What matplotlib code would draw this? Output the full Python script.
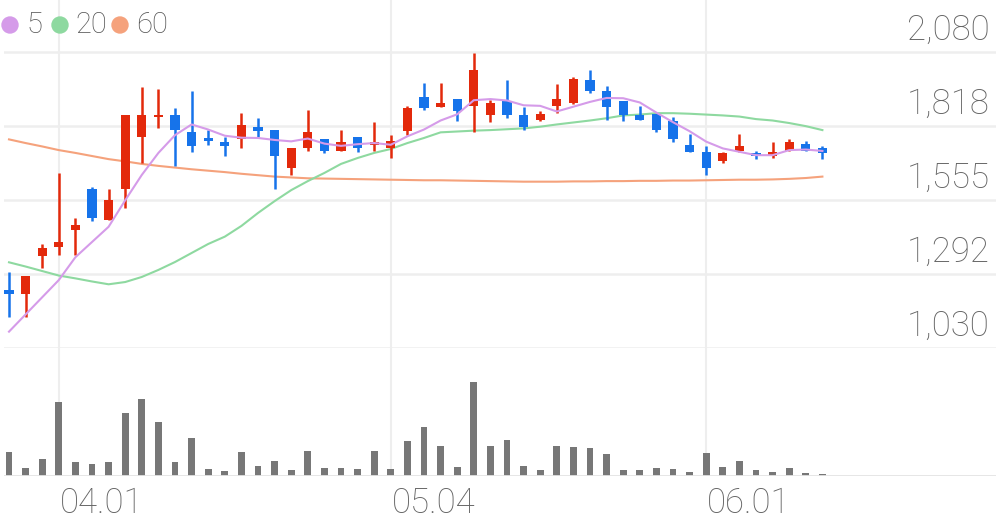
"""Daily candlestick chart with 5/20/60 moving averages and a volume strip."""

import matplotlib

matplotlib.use("Agg")

import matplotlib.pyplot as plt  # noqa: E402
from matplotlib.patches import Ellipse  # noqa: E402
from matplotlib.transforms import blended_transform_factory, offset_copy  # noqa: E402

# --- data ------------------------------------------------------------------
opens = [1235, 1220, 1355, 1390, 1450, 1595, 1485, 1595, 1780, 1850,
         1855, 1795, 1775, 1760, 1770, 1815, 1805, 1670, 1740, 1770,
         1730, 1780, 1750, 1740, 1800, 1920, 1885, 1915, 1890, 1855,
         1905, 1855, 1840, 1890, 1900, 1980, 1940, 1905, 1855, 1860,
         1835, 1750, 1725, 1695, 1730, 1720, 1710, 1730, 1755, 1740]
highs = [1300, 1285, 1400, 1650, 1490, 1600, 1595, 1855, 1955, 1950,
         1880, 1940, 1805, 1780, 1865, 1845, 1805, 1740, 1875, 1770,
         1805, 1780, 1830, 1785, 1890, 1970, 1970, 1915, 2075, 1910,
         1980, 1885, 1870, 1965, 1990, 2015, 1960, 1905, 1890, 1860,
         1850, 1790, 1745, 1725, 1790, 1730, 1760, 1770, 1765, 1745]
lows = [1140, 1140, 1315, 1360, 1360, 1480, 1485, 1525, 1685, 1810,
        1675, 1725, 1750, 1710, 1740, 1780, 1595, 1645, 1730, 1720,
        1730, 1725, 1730, 1705, 1785, 1875, 1885, 1835, 1795, 1830,
        1845, 1805, 1835, 1865, 1895, 1935, 1840, 1835, 1840, 1795,
        1760, 1725, 1645, 1685, 1725, 1700, 1705, 1730, 1730, 1700]
closes = [1220, 1285, 1385, 1405, 1465, 1490, 1555, 1855, 1855, 1855,
          1805, 1745, 1765, 1745, 1820, 1800, 1710, 1740, 1795, 1730,
          1760, 1740, 1760, 1765, 1880, 1880, 1900, 1870, 2015, 1900,
          1855, 1815, 1860, 1915, 1985, 1940, 1885, 1855, 1840, 1805,
          1770, 1725, 1670, 1720, 1745, 1710, 1725, 1760, 1730, 1720]
volumes = [243000, 77000, 167000, 737000, 137000, 117000, 137000, 627000, 767000, 537000,
           143000, 383000, 70000, 53000, 237000, 100000, 153000, 57000, 247000, 77000,
           83000, 67000, 247000, 70000, 353000, 487000, 300000, 90000, 940000, 300000,
           363000, 100000, 63000, 303000, 290000, 280000, 217000, 63000, 60000, 83000,
           70000, 40000, 230000, 90000, 150000, 60000, 43000, 80000, 33000, 17000]

ma5 = [1088, 1149, 1210, 1271, 1352, 1406, 1460, 1554, 1644, 1722,
       1785, 1823, 1805, 1783, 1776, 1775, 1768, 1763, 1773, 1755,
       1747, 1753, 1757, 1751, 1781, 1805, 1837, 1859, 1909, 1913,
       1908, 1891, 1889, 1869, 1886, 1903, 1917, 1916, 1901, 1865,
       1831, 1799, 1762, 1738, 1726, 1714, 1714, 1732, 1734, 1729]
ma20 = [1334, 1319, 1303, 1287, 1277, 1266, 1256, 1264, 1282, 1307,
        1335, 1367, 1399, 1425, 1463, 1509, 1551, 1590, 1622, 1651,
        1683, 1704, 1722, 1736, 1757, 1775, 1795, 1798, 1801, 1803,
        1806, 1809, 1815, 1823, 1830, 1837, 1845, 1855, 1858, 1863,
        1863, 1861, 1858, 1855, 1851, 1842, 1837, 1828, 1817, 1803]
ma60 = [1770, 1757, 1745, 1732, 1722, 1711, 1700, 1692, 1683, 1676,
        1670, 1664, 1659, 1654, 1648, 1643, 1638, 1635, 1632, 1631,
        1630, 1629, 1628, 1627, 1626, 1625, 1625, 1624, 1623, 1622,
        1621, 1620, 1620, 1620, 1621, 1621, 1622, 1622, 1623, 1623,
        1624, 1624, 1625, 1626, 1627, 1627, 1628, 1630, 1633, 1638]

date_ticks = [3, 23, 42]
date_labels = ["04.01", "05.04", "06.01"]
price_ticks = [1030, 1292.5, 1555, 1817.5, 2080]
ma_names = ["5", "20", "60"]

# --- style -------------------------------------------------------------------
UP, DOWN = "#e3290b", "#1673ea"
MA_COLORS = ["#d59be9", "#8ed9a0", "#f5a27c"]
GRID = "#eeeeee"
TEXT = "#636363"
FONT = ["Roboto", "DejaVu Sans"]

W, H = 996, 519
plt.rcParams["font.family"] = FONT

fig = plt.figure(figsize=(W / 100, H / 100), dpi=100)
left, right = 4 / W, 996 / W
ax = fig.add_axes([left, 1 - 348 / H, right - left, 348 / H])
axv = fig.add_axes([left, 1 - 476 / H, right - left, 128 / H], sharex=ax)

n = len(closes)
x = list(range(n))

for a in (ax, axv):
    for s in a.spines.values():
        s.set_visible(False)
    a.tick_params(left=False, bottom=False, labelleft=False, labelbottom=False)
    for t in date_ticks:
        a.axvline(t, color=GRID, lw=1.5, zorder=0)

# horizontal price grid and right-side labels
lab_tr = offset_copy(blended_transform_factory(ax.transAxes, ax.transData),
                     fig=fig, y=12, units="dots")
for v in price_ticks:
    ax.axhline(v, color=GRID, lw=1.8, zorder=0)
    ax.text(0.9935, v, f"{v:,.0f}", transform=lab_tr, ha="right", va="baseline",
            fontsize=25, color=TEXT, fontweight="light")

# candles
cols = [UP if c >= o else DOWN for o, c in zip(opens, closes)]
ax.vlines(x, lows, highs, colors=cols, lw=1.8, zorder=3)
bottoms = [min(o, c) for o, c in zip(opens, closes)]
heights = [max(abs(c - o), 5) for o, c in zip(opens, closes)]
ax.bar(x, heights, bottom=bottoms, width=0.55, color=cols, zorder=4)

# moving averages
ax.plot(x, ma60, color=MA_COLORS[2], lw=1.5, zorder=2)
ax.plot(x, ma20, color=MA_COLORS[1], lw=1.5, zorder=2)
ax.plot(x, ma5, color=MA_COLORS[0], lw=1.5, zorder=5)

ax.set_xlim((4 - 9) / 16.6, (996 - 9) / 16.6)
ax.set_ylim(1030, 2080 + 52 * 262.5 / 74)

# legend, top-left (pixel positions)
dot_px = [10, 60, 120]
txt_px = [26, 75, 136]
ly = 1 - 25 / H
for name, color, dx, tx in zip(ma_names, MA_COLORS, dot_px, txt_px):
    fig.add_artist(Ellipse((dx / W, ly), 16 / W, 16 / H, color=color,
                           transform=fig.transFigure))
    fig.text(tx / W, ly, name, ha="left", va="center", fontsize=21,
             color="#555555", fontweight="light")

# volume
axv.bar(x, volumes, width=0.42, color="#777777", zorder=3)
axv.set_ylim(0, 1280000)
axv.axhline(0, color="#e4e4e4", lw=2, zorder=4)
date_tr = offset_copy(blended_transform_factory(axv.transData, axv.transAxes),
                      fig=fig, x=1, y=-37, units="dots")
for t, lab in zip(date_ticks, date_labels):
    axv.text(t, 0, lab, transform=date_tr, ha="left", va="baseline",
             fontsize=25, color=TEXT, fontweight="light")

fig.savefig("out.png", dpi=100)
